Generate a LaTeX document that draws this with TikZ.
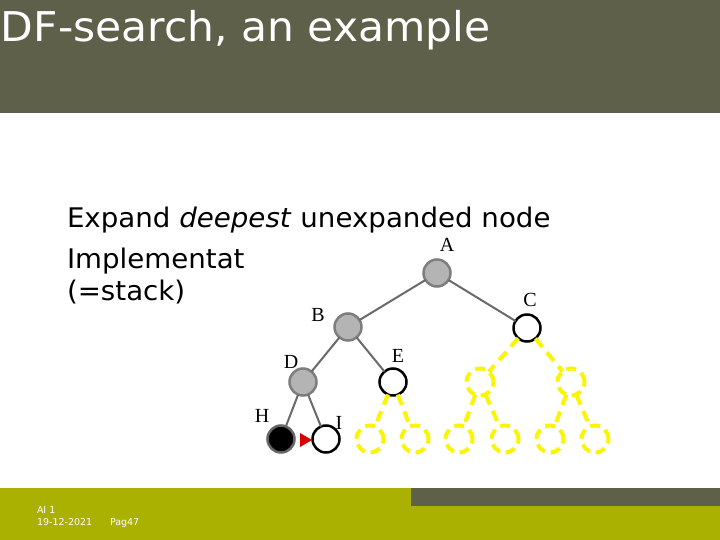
\documentclass[tikz,border=0pt]{standalone}
\usepackage{fontspec}
\setmainfont{DejaVu Sans}
\newfontfamily\labfont{Liberation Serif}
\usetikzlibrary{arrows.meta}
\definecolor{hdr}{HTML}{5F604A}
\definecolor{ftr}{HTML}{ABB100}
\definecolor{nodegray}{HTML}{B4B4B4}
\definecolor{edgegray}{HTML}{6A6A6A}
\definecolor{ylw}{HTML}{FAF500}
\begin{document}
\begin{tikzpicture}[x=1pt,y=-1pt,
  every node/.style={inner sep=0pt,outer sep=0pt},
  tnode/.style={circle,minimum size=27pt,line width=2.5pt},
  expd/.style={tnode,fill=nodegray,draw=nodegray!70!black},
  fringe/.style={tnode,fill=white,draw=black},
  cur/.style={tnode,fill=black,draw=black!60},
  ghost/.style={tnode,draw=ylw,line width=4pt,dash pattern=on 10pt off 6pt},
  tedge/.style={draw=edgegray,line width=2pt},
  gedge/.style={draw=ylw,line width=4pt,dash pattern=on 11pt off 7pt},
  lab/.style={font=\labfont\fontsize{20}{20}\selectfont,anchor=center},
  body/.style={font=\fontsize{27}{27}\selectfont,anchor=base west}]
\useasboundingbox (0,0) rectangle (720,540);
\fill[white] (0,0) rectangle (720,540);
% header
\fill[hdr] (0,0) rectangle (720,113);
\node[anchor=base west,text=white,font=\fontsize{41}{41}\selectfont] (title) at (1,42) {\scalebox{1.035}[1]{DF-search, an example}};
% footer
\fill[ftr] (0,488) rectangle (720,540);
\fill[hdr] (411,488) rectangle (720,506);
\node[anchor=base west,text=white,font=\fontsize{9.5}{9.5}\selectfont] (f1) at (37,513) {AI 1};
\node[anchor=base west,text=white,font=\fontsize{9.5}{9.5}\selectfont] (f2) at (37,525) {19-12-2021};
\node[anchor=base west,text=white,font=\fontsize{9.5}{9.5}\selectfont] (f3) at (110,525) {Pag47};
% body text
\node[body] (t1) at (67,227) {\scalebox{1.025}[1]{Expand \textit{deepest} unexpanded node}};
\node[body] (t2) at (67,268) {\scalebox{1.025}[1]{Implementat}};
\node[body] (t3) at (67,300) {\scalebox{1.025}[1]{(=stack)}};
% ghost nodes
\node[ghost] (C1) at (480,382) {};
\node[ghost] (C2) at (571,382) {};
\node[ghost] (E1) at (370,439) {};
\node[ghost] (E2) at (415,439) {};
\node[ghost] (C11) at (459,439) {};
\node[ghost] (C12) at (505,439) {};
\node[ghost] (C21) at (550,439) {};
\node[ghost] (C22) at (595,439) {};
% tree nodes
\node[expd] (A) at (437,273) {};
\node[expd] (B) at (348,327) {};
\node[fringe] (C) at (527,328) {};
\node[expd] (D) at (303,382) {};
\node[fringe] (E) at (393,382) {};
\node[cur] (H) at (281,439) {};
\node[fringe] (I) at (326,439) {};
% edges
\path[tedge] (A) -- (B);
\path[tedge] (A) -- (C);
\path[tedge] (B) -- (D);
\path[tedge] (B) -- (E);
\path[tedge] (D) -- (H);
\path[tedge] (D) -- (I);
\path[gedge] (C) -- (C1);
\path[gedge] (C) -- (C2);
\path[gedge] (E) -- (E1);
\path[gedge] (E) -- (E2);
\path[gedge] (C1) -- (C11);
\path[gedge] (C1) -- (C12);
\path[gedge] (C2) -- (C21);
\path[gedge] (C2) -- (C22);
% red pointer
\coordinate (rp) at (312,440);
\fill[red!85!black] (rp) -- ++(-12,-7) -- ++(0,14) -- cycle;
% labels
\node[lab] (lA) at (447,245) {A};
\node[lab] (lB) at (318,315) {B};
\node[lab] (lC) at (530,300) {C};
\node[lab] (lD) at (291,362) {D};
\node[lab] (lE) at (398,356) {E};
\node[lab] (lH) at (262,416) {H};
\node[lab] (lI) at (339,423) {I};
\end{tikzpicture}
\end{document}
